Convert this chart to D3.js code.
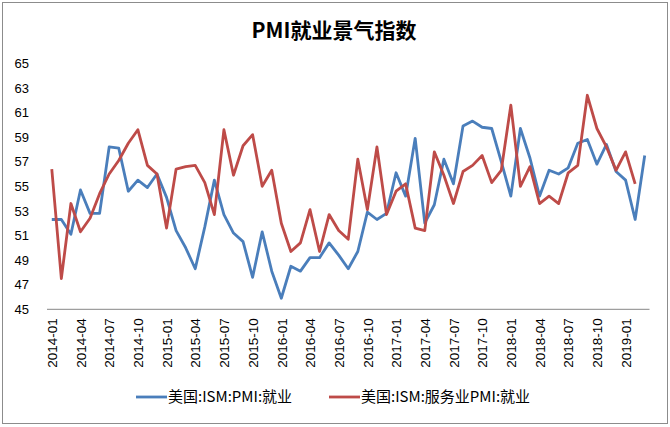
<!DOCTYPE html>
<html>
<head>
<meta charset="utf-8">
<script src="https://cdn.jsdelivr.net/npm/d3@7"></script>
<style>
  body { margin: 0; background: #fff; }
  svg text { font-family: "Liberation Sans", Arial, sans-serif; }
</style>
</head>
<body>
<div id="chart"></div>
<script>
// 月份: 2014-01 .. 2019-03
var months = [];
for (let y = 2014; y <= 2019; y++) {
    for (let m = 1; m <= 12; m++) {
        if (y == 2019 && m > 3) break;
        months.push(y + "-" + (m < 10 ? "0" + m : m));
    }
}

var seriesNames = ["美国:ISM:PMI:就业", "美国:ISM:服务业PMI:就业"];

// 美国:ISM:PMI:就业
var pmiJob = [
    52.3, 52.3, 51.1, 54.7, 52.8, 52.8, 58.2, 58.1, 54.6, 55.5, 54.9, 56.0,
    54.1, 51.4, 50.0, 48.3, 51.7, 55.5, 52.7, 51.2, 50.5, 47.6, 51.3, 48.1,
    45.9, 48.5, 48.1, 49.2, 49.2, 50.4, 49.4, 48.3, 49.7, 52.9, 52.3, 52.8,
    56.1, 54.2, 58.9, 52.0, 53.5, 57.2, 55.2, 59.9, 60.3, 59.8, 59.7, 57.0,
    54.2, 59.7, 57.3, 54.2, 56.3, 56.0, 56.5, 58.5, 58.8, 56.8, 58.4, 56.2,
    55.5, 52.3, 57.5
];

// 美国:ISM:服务业PMI:就业 (no value for 2019-03)
var servJob = [
    56.4, 47.5, 53.6, 51.3, 52.4, 54.4, 56.0, 57.1, 58.5, 59.6, 56.7, 56.0,
    51.6, 56.4, 56.6, 56.7, 55.3, 52.7, 59.6, 55.9, 58.3, 59.2, 55.0, 56.3,
    52.0, 49.7, 50.4, 53.1, 49.7, 52.7, 51.4, 50.7, 57.2, 53.1, 58.2, 52.7,
    54.6, 55.2, 51.6, 51.4, 57.8, 55.9, 53.6, 56.2, 56.7, 57.5, 55.3, 56.3,
    61.6, 55.0, 56.6, 53.6, 54.2, 53.6, 56.1, 56.7, 62.4, 59.7, 58.2, 56.3,
    57.8, 55.2
];

var yTicks = [45, 47, 49, 51, 53, 55, 57, 59, 61, 63, 65];
var xTicks = months.filter((d, i) => i % 3 == 0);

var colors = ["#4a7ebb", "#be4b48"];

var W = 670, H = 427;
let svg = d3.select("#chart").append("svg")
    .attr("width", W)
    .attr("height", H);

svg.append("rect")
    .attr("x", 2.5).attr("y", 2.5)
    .attr("width", W - 5).attr("height", H - 6)
    .attr("fill", "#fff")
    .attr("stroke", "#8c8c8c");

svg.append("text")
    .attr("x", 334).attr("y", 38)
    .attr("text-anchor", "middle")
    .style("font-family", "'Noto Sans CJK SC', sans-serif")
    .style("font-weight", "bold")
    .style("font-size", "21px")
    .text("PMI就业景气指数");

let x = d3.scalePoint()
    .domain(months)
    .range([47, 649.5])
    .padding(0.5);

let y = d3.scaleLinear()
    .domain([45, 65])
    .range([309.3, 63.3]);

// y axis labels (no axis line)
let yAxis = svg.append("g")
    .attr("transform", "translate(29,0)")
    .call(d3.axisLeft(y).tickValues(yTicks).tickSize(0).tickPadding(0));
yAxis.select(".domain").remove();
yAxis.selectAll("text")
    .style("font-size", "13px")
    .attr("fill", "#000");

// x axis
let xAxis = svg.append("g")
    .attr("transform", "translate(0,309.3)")
    .call(d3.axisBottom(x).tickValues(xTicks).tickSize(0));
xAxis.select(".domain")
    .attr("d", "M47,0H649.5")
    .attr("stroke", "#868686");
xAxis.selectAll("text")
    .style("font-size", "13.5px")
    .attr("fill", "#000")
    .attr("text-anchor", "end")
    .attr("dy", "0.35em")
    .attr("transform", "translate(0,9) rotate(-90)")
    .attr("x", 0)
    .attr("y", 0);

let line = d3.line()
    .x((d, i) => x(months[i]))
    .y(d => y(d));

svg.selectAll("path.series")
    .data([pmiJob, servJob])
    .join("path")
    .attr("class", "series")
    .attr("d", d => line(d))
    .attr("fill", "none")
    .attr("stroke", (d, i) => colors[i])
    .attr("stroke-width", 2.8)
    .attr("stroke-linejoin", "round");

// legend
let legX = [136, 329];
let leg = svg.selectAll("g.leg")
    .data(seriesNames)
    .join("g")
    .attr("class", "leg")
    .attr("transform", (d, i) => "translate(" + legX[i] + ",397)");
leg.append("line")
    .attr("x1", 0).attr("x2", 31)
    .attr("stroke", (d, i) => colors[i])
    .attr("stroke-width", 2.8);
leg.append("text")
    .attr("x", 32)
    .attr("dy", "0.36em")
    .style("font-family", "'Noto Sans CJK SC', sans-serif")
    .style("font-size", "15px")
    .text(d => d);
</script>
</body>
</html>
